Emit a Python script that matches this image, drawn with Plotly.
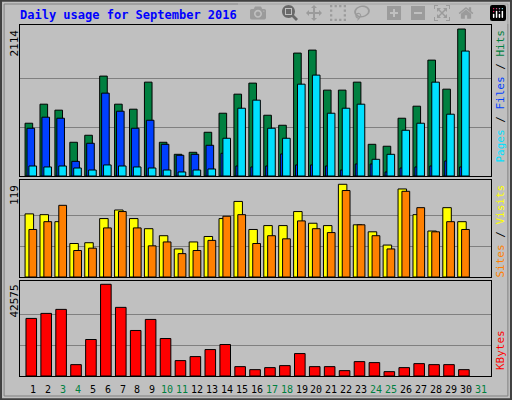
import plotly.graph_objects as go

days = list(range(1, 31))
hits = [759, 1033, 947, 485, 586, 1437, 1033, 961, 1350, 485, 312, 341, 629, 903, 1177,
        1336, 874, 730, 1768, 1811, 1235, 1235, 1350, 456, 428, 831, 1004, 1667, 1249, 2114]
files = [687, 846, 831, 211, 471, 1192, 932, 687, 802, 456, 298, 312, 442, 327, 144,
         130, 144, 317, 159, 159, 144, 86, 173, 173, 58, 115, 130, 144, 216, 130]
pages = [144, 130, 144, 115, 86, 159, 144, 130, 115, 86, 58, 86, 101, 543, 975,
         1091, 687, 543, 1321, 1451, 903, 975, 1033, 240, 312, 658, 759, 1350, 889, 1797]
sites = [81, 80, 71, 43, 44, 75, 86, 75, 62, 53, 36, 45, 52, 75, 97,
         61, 66, 66, 84, 69, 66, 119, 67, 58, 41, 113, 80, 59, 89, 71]
visits = [61, 71, 92, 34, 37, 63, 84, 63, 40, 45, 30, 34, 47, 78, 80,
          43, 53, 49, 72, 62, 57, 111, 67, 53, 36, 110, 89, 58, 71, 61]
kbytes = [26730, 29060, 30920, 5280, 16940, 42575, 31860, 21130, 26260, 17400, 7150, 9010,
          12280, 14610, 4350, 2950, 3890, 4820, 10410, 4350, 4350, 2490, 6680, 6220, 2020,
          3890, 5750, 5280, 5280, 2950]
weekend_days = [3, 4, 10, 11, 17, 18, 24, 25, 31]

fig = go.Figure()
line = dict(color="black", width=1)


def add_bars(vals, color, offset, width, axis):
    fig.add_trace(go.Bar(x=days, y=vals, offset=offset, width=width,
                         marker=dict(color=color, line=line),
                         xaxis="x" + axis, yaxis="y" + axis, showlegend=False))


add_bars(hits, "#008040", -0.53, 0.51, "")
add_bars(files, "#0040FF", -0.40, 0.51, "")
add_bars(pages, "#00E0FF", -0.27, 0.51, "")
add_bars(sites, "#FFFF00", -0.53, 0.57, "2")
add_bars(visits, "#FF8000", -0.27, 0.52, "2")
add_bars(kbytes, "#FF0000", -0.47, 0.71, "3")

xr = [0.13, 31.7]
xdom = [20 / 512, 491 / 512]
xax = dict(range=xr, domain=xdom, showticklabels=False, showgrid=False, zeroline=False,
           showline=True, linecolor="black", mirror=True, ticks="")


def yax(top, mx, dom):
    return dict(range=[0, top], domain=dom, tickvals=[mx / 3, mx * 2 / 3],
                showticklabels=False, gridcolor="#808080", zeroline=False,
                showline=True, linecolor="black", mirror=True, ticks="")


fig.update_layout(
    width=512, height=400, margin=dict(l=0, r=0, t=0, b=0),
    paper_bgcolor="#C0C0C0", plot_bgcolor="#C0C0C0", barmode="overlay",
    font=dict(family="DejaVu Sans Mono", size=11, color="black"),
    xaxis=dict(xax, anchor="y"),
    xaxis2=dict(xax, anchor="y2"),
    xaxis3=dict(xax, anchor="y3"),
    yaxis=dict(yax(2172, 2114, [0.56, 0.9375]), anchor="x"),
    yaxis2=dict(yax(124.5, 119, [0.3075, 0.55]), anchor="x2"),
    yaxis3=dict(yax(44100, 42575, [0.06, 0.2975]), anchor="x3"),
)

ann = [
    dict(text="<b>Daily usage for September 2016</b>", x=18 / 512, y=1 - 15 / 400,
         xanchor="left", yanchor="middle", font=dict(color="#0000FF", size=12)),
    dict(text="2114", x=14 / 512, y=1 - 28 / 400, textangle=-90, xanchor="center", yanchor="top"),
    dict(text="119", x=14 / 512, y=1 - 183 / 400, textangle=-90, xanchor="center", yanchor="top"),
    dict(text="42575", x=14 / 512, y=1 - 283 / 400, textangle=-90, xanchor="center", yanchor="top"),
    dict(text="<span style='color:#00E0FF'>Pages</span> / <span style='color:#0040FF'>Files</span>"
              " / <span style='color:#008040'>Hits</span>",
         x=500 / 512, y=1 - 28 / 400, textangle=-90, xanchor="center", yanchor="top"),
    dict(text="<span style='color:#FF8000'>Sites</span> / <span style='color:#FFFF00'>Visits</span>",
         x=500 / 512, y=1 - 183 / 400, textangle=-90, xanchor="center", yanchor="top"),
    dict(text="<span style='color:#FF0000'>KBytes</span>",
         x=500 / 512, y=1 - 328 / 400, textangle=-90, xanchor="center", yanchor="top"),
]
for a in ann:
    a.update(xref="paper", yref="paper", showarrow=False)
for d in range(1, 32):
    ann.append(dict(text=str(d), x=d, xref="x3", y=1 - 389 / 400, yref="paper",
                    showarrow=False, xanchor="center", yanchor="middle",
                    font=dict(size=10, color="#008040" if d in weekend_days else "black")))
fig.update_layout(annotations=ann)

fig.add_shape(type="rect", xref="paper", yref="paper", x0=0.002, y0=0.002, x1=0.998, y1=0.998,
              line=dict(color="#404040", width=2))
fig.add_shape(type="rect", xref="paper", yref="paper", x0=0.008, y0=0.01, x1=0.992, y1=0.99,
              line=dict(color="#808080", width=1))

fig.write_html("out.html", post_script="document.body.style.margin='0';")
